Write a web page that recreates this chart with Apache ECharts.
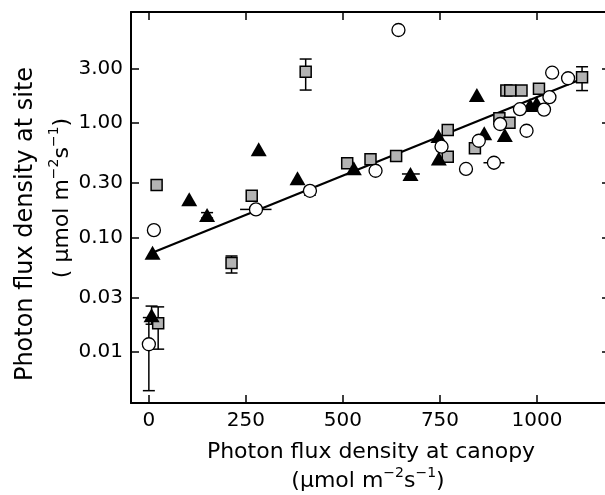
<!DOCTYPE html>
<html>
<head>
<meta charset="utf-8">
<script src="https://cdn.jsdelivr.net/npm/echarts@6/dist/echarts.min.js"></script>
<style>
  html, body { margin: 0; padding: 0; background: #fff; }
  #chart { width: 605px; height: 495px; }
</style>
</head>
<body>
<div id="chart"></div>
<script>
// tick labels
const xTicks = [0, 250, 500, 750, 1000];
const yTicks = [0.01, 0.03, 0.1, 0.3, 1, 3];

// [canopy, site]
const circles = [
  [0, 0.0117], [13, 0.116], [276, 0.176], [415, 0.256], [584, 0.383], [643, 6.49],
  [754, 0.621], [817, 0.397], [850, 0.70], [889, 0.45], [905, 0.98], [956, 1.32],
  [973, 0.856], [1018, 1.31], [1032, 1.68], [1039, 2.75], [1080, 2.46]
];
const squares = [
  [20, 0.288], [24, 0.0178], [213, 0.060], [265, 0.232], [404, 2.81], [511, 0.445],
  [571, 0.482], [637, 0.515], [770, 0.869], [770, 0.508], [840, 0.601], [903, 1.10],
  [929, 1.006], [921, 1.92], [931, 1.92], [960, 1.92], [1005, 1.99], [1116, 2.51]
];
const triangles = [
  [7, 0.021], [9.5, 0.0736], [104, 0.216], [150, 0.157], [283, 0.589], [383, 0.329],
  [528, 0.402], [674, 0.359], [746, 0.769], [747, 0.491], [845, 1.76], [864, 0.813],
  [917, 0.786], [982, 1.44], [999, 1.49]
];
// [x, low, high]
const yErrors = [
  [404, 1.94, 3.62], [1116, 1.92, 3.1], [213, 0.049, 0.069], [7, 0.0175, 0.0252],
  [24, 0.0106, 0.0248], [0, 0.0046, 0.02], [415, 0.235, 0.275], [150, 0.148, 0.165]
];
// [low, high, y]
const xErrors = [
  [235, 316, 0.176], [862, 916, 0.45], [652, 698, 0.359]
];
// fitted line end points
const fitLine = [[15, 0.075], [1112, 2.4]];

const FONT = 'DejaVu Sans';
const chart = echarts.init(document.getElementById('chart'));

function vErrBar(params, api) {
  const a = api.coord([api.value(0), api.value(1)]);
  const b = api.coord([api.value(0), api.value(2)]);
  const w = 6;
  const st = { stroke: '#000', lineWidth: 1.5 };
  return {
    type: 'group',
    children: [
      { type: 'line', shape: { x1: a[0], y1: a[1], x2: b[0], y2: b[1] }, style: st },
      { type: 'line', shape: { x1: a[0] - w, y1: a[1], x2: a[0] + w, y2: a[1] }, style: st },
      { type: 'line', shape: { x1: b[0] - w, y1: b[1], x2: b[0] + w, y2: b[1] }, style: st }
    ]
  };
}
function hErrBar(params, api) {
  const a = api.coord([api.value(0), api.value(2)]);
  const b = api.coord([api.value(1), api.value(2)]);
  return {
    type: 'line',
    shape: { x1: a[0], y1: a[1], x2: b[0], y2: b[1] },
    style: { stroke: '#000', lineWidth: 1.5 }
  };
}

const axisLine = { show: true, onZero: false, lineStyle: { color: '#000', width: 2 } };
const tick = { show: true, inside: true, length: 8, lineStyle: { color: '#000', width: 1.5 }, customValues: xTicks };
const ytick = { show: true, inside: true, length: 8, lineStyle: { color: '#000', width: 1.5 }, customValues: yTicks };

const option = {
  animation: false,
  grid: { left: 131, top: 12, width: 479, height: 391, containLabel: false, outerBoundsMode: 'none' },
  xAxis: [
    {
      type: 'value', min: -46, max: 1188, position: 'bottom',
      axisLine: axisLine, axisTick: tick, splitLine: { show: false },
      axisLabel: {
        customValues: xTicks, color: '#000', fontFamily: FONT, fontSize: 20, margin: 8,
        formatter: v => String(v)
      }
    },
    {
      type: 'value', min: -46, max: 1188, position: 'top',
      axisLine: axisLine, axisTick: tick, splitLine: { show: false },
      axisLabel: { show: false }
    }
  ],
  yAxis: [
    {
      type: 'log', logBase: 10, min: 0.00359, max: 9.32, position: 'left',
      axisLine: axisLine, axisTick: ytick, splitLine: { show: false }, minorTick: { show: false },
      axisLabel: {
        customValues: yTicks, color: '#000', fontFamily: FONT, fontSize: 20, margin: 8,
        formatter: v => Number(v).toFixed(2)
      }
    },
    {
      type: 'log', logBase: 10, min: 0.00359, max: 9.32, position: 'right',
      axisLine: axisLine, axisTick: ytick, splitLine: { show: false }, minorTick: { show: false },
      axisLabel: { show: false }
    }
  ],
  series: [
    {
      type: 'custom', renderItem: vErrBar, data: yErrors,
      encode: { x: 0, y: [1, 2] }, z: 1, silent: true
    },
    {
      type: 'custom', renderItem: hErrBar, data: xErrors,
      encode: { x: [0, 1], y: 2 }, z: 1, silent: true
    },
    {
      type: 'line', data: fitLine, symbol: 'none', z: 2,
      lineStyle: { color: '#000', width: 2.2 }
    },
    {
      type: 'scatter', data: squares, symbol: 'rect', symbolSize: 11, z: 3,
      itemStyle: { color: '#b3b3b3', borderColor: '#000', borderWidth: 1.5, opacity: 1 }
    },
    {
      type: 'scatter', data: triangles, symbol: 'triangle', symbolSize: [16, 14], z: 4,
      itemStyle: { color: '#000', opacity: 1 }
    },
    {
      type: 'scatter', data: circles, symbol: 'circle', symbolSize: 13, z: 5,
      itemStyle: { color: '#fff', borderColor: '#000', borderWidth: 1.3, opacity: 1 }
    }
  ],
  graphic: [
    {
      type: 'text', x: 26, y: 224, rotation: Math.PI / 2,
      style: { text: 'Photon flux density at site', font: '24px "' + FONT + '"', fill: '#000', align: 'center', verticalAlign: 'middle' }
    },
    {
      type: 'text', x: 62, y: 198, rotation: Math.PI / 2,
      style: {
        text: '{n|( \u03bcmol m}{s|\u22122}{n|s}{s|\u22121}{n|)}',
        align: 'center', verticalAlign: 'middle',
        rich: {
          n: { fontFamily: FONT, fontSize: 22, lineHeight: 30, fill: '#000' },
          s: { fontFamily: FONT, fontSize: 14, lineHeight: 14, verticalAlign: 'top', fill: '#000' }
        }
      }
    },
    {
      type: 'text', x: 371, y: 452,
      style: { text: 'Photon flux density at canopy', font: '22px "' + FONT + '"', fill: '#000', align: 'center', verticalAlign: 'middle' }
    },
    {
      type: 'text', x: 368, y: 481,
      style: {
        text: '{n|(\u03bcmol m}{s|\u22122}{n|s}{s|\u22121}{n|)}',
        align: 'center', verticalAlign: 'middle',
        rich: {
          n: { fontFamily: FONT, fontSize: 22, lineHeight: 30, fill: '#000' },
          s: { fontFamily: FONT, fontSize: 14, lineHeight: 14, verticalAlign: 'top', fill: '#000' }
        }
      }
    }
  ]
};
chart.setOption(option);
</script>
</body>
</html>
